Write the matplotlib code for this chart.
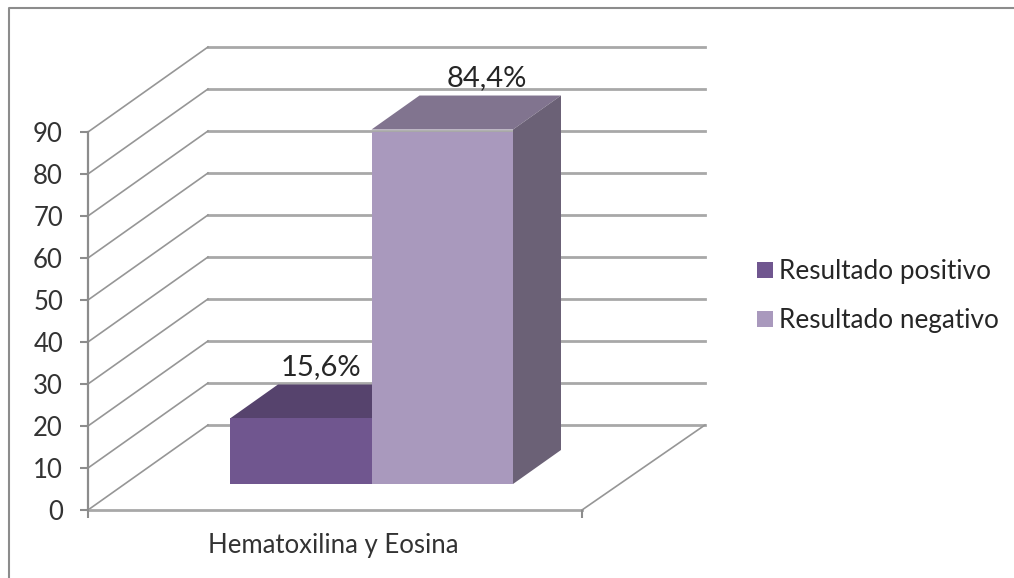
import matplotlib
matplotlib.use('Agg')
import matplotlib.pyplot as plt
from matplotlib.lines import Line2D

plt.rcParams['font.family'] = ['Lato', 'DejaVu Sans']

# data
category = 'Hematoxilina y Eosina'
series_names = ['Resultado positivo', 'Resultado negativo']
values = [15.6, 84.4]
value_labels = ['15,6%', '84,4%']
yticks = list(range(0, 100, 10))

W, H = 1014, 578
front_colors = ['#70568f', '#a999bd']
top_colors = ['#56436d', '#81748f']
side_colors = ['#4b3a60', '#6b6176']

fig = plt.figure(figsize=(W / 100, H / 100), dpi=100, facecolor='white')
# axes = front plane of the fake 3d box
left, right, bottom, top = 88, 582, 510, 132
ax = fig.add_axes([left / W, 1 - bottom / H, (right - left) / W, (bottom - top) / H])
ax.set_xlim(0, right - left)
ax.set_ylim(0, 90)
ax.patch.set_visible(False)
for s in ax.spines.values():
    s.set_visible(False)
ppu = (bottom - top) / 90.0  # pixels per y unit

# box depth, in pixels
depth_x, depth_y = 120, 85
dy_units = depth_y / ppu
back_right = right - left + depth_x + 3

# walls
for v in yticks:
    ax.plot([depth_x, back_right], [v + dy_units, v + dy_units], color='#a8a8a8',
            lw=2.0, clip_on=False, zorder=1)
    ax.plot([0, depth_x], [v, v + dy_units], color='#969696', lw=1.2, clip_on=False, zorder=1)
# floor
ax.plot([0, right - left], [0, 0], color='#a8a8a8', lw=2.0, clip_on=False, zorder=1)
ax.plot([right - left, back_right], [0, dy_units], color='#969696', lw=1.2, clip_on=False, zorder=1)

# axis lines and ticks
ax.plot([0, 0], [0, 90], color='#8c8c8c', lw=1.6, clip_on=False, zorder=2)
ax.set_yticks(yticks)
ax.set_xticks([0, right - left])
ax.set_xticklabels(['', ''])
ax.tick_params(axis='y', length=6, width=1.5, color='#8c8c8c', labelsize=18.5, labelcolor='#333333', pad=12)
ax.tick_params(axis='x', length=6, width=1.5, color='#8c8c8c')

# bars
bar_left = 142
bar_w = 141.5
lift = 26 / ppu
bar_dx, bar_dy = 48, 34 / ppu
bars = []
for i, v in enumerate(values):
    x0 = bar_left + i * bar_w
    x1 = x0 + bar_w
    b = ax.bar(x0, v, width=bar_w, bottom=lift, align='edge', color=front_colors[i], zorder=5 + i)
    bars.append(b[0])
    ytop = lift + v
    ax.fill([x0, x0 + bar_dx, x1 + bar_dx, x1], [ytop, ytop + bar_dy, ytop + bar_dy, ytop],
            color=top_colors[i], lw=0, zorder=4 + i, clip_on=False)
    ax.fill([x1, x1 + bar_dx, x1 + bar_dx, x1], [lift, lift + bar_dy, ytop + bar_dy, ytop],
            color=side_colors[i], lw=0, zorder=4 + i, clip_on=False)

ax.text(bar_left + bar_w * 0.5 + 20, lift + values[0] + bar_dy + 1, value_labels[0], ha='center', va='bottom',
        fontsize=21, color='#262626', zorder=10)
ax.text(bar_left + bar_w * 1.5 + 45, lift + values[1] + bar_dy + 1, value_labels[1], ha='center', va='bottom',
        fontsize=21, color='#262626', zorder=10, clip_on=False)

ax.text(333 - left, -8.5, category, ha='center', va='center', fontsize=18.5, color='#333333')

fig.legend(bars, series_names, loc='center left', bbox_to_anchor=(757 / W, 1 - 296 / H), frameon=False,
           fontsize=18.8, labelcolor='#262626', handlelength=0.62, handleheight=0.55, handletextpad=0.24,
           labelspacing=0.92, borderpad=0, borderaxespad=0)

# outer frame
fig.add_artist(Line2D([9 / W, 9 / W, 1], [0, 1 - 8 / H, 1 - 8 / H], color='#8c8c8c', lw=1.5))

fig.savefig('out.png', dpi=100)
